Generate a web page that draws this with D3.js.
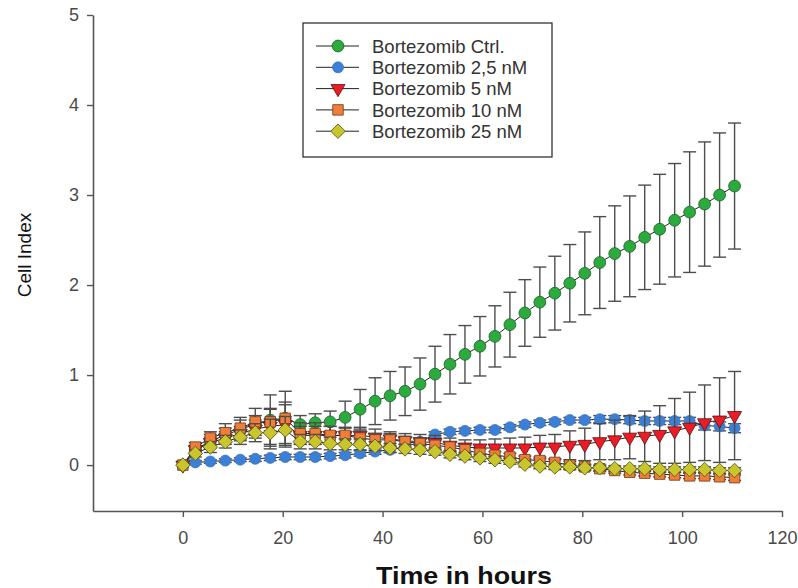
<!DOCTYPE html>
<html>
<head>
<meta charset="utf-8">
<script src="https://cdn.jsdelivr.net/npm/d3@7"></script>
<style>
  body { margin: 0; background: #fff; }
  text { font-family: "Liberation Sans", Arial, sans-serif; }
</style>
</head>
<body>
<svg class="chart" width="798" height="588"></svg>
<script>
var hours = [0, 2.5, 5.5, 8.5, 11.5, 14.5, 17.5, 20.5, 23.5, 26.5, 29.5, 32.5, 35.5, 38.5, 41.5, 44.5, 47.5, 50.5, 53.5, 56.5,
             59.5, 62.5, 65.5, 68.5, 71.5, 74.5, 77.5, 80.5, 83.5, 86.5, 89.5, 92.5, 95.5, 98.5, 101.5, 104.5, 107.5, 110.5];

var ctrl    = [0, 0.17, 0.27, 0.33, 0.40, 0.45, 0.50, 0.52, 0.45, 0.47, 0.48, 0.53, 0.62, 0.71, 0.77, 0.82, 0.90, 1.01, 1.12, 1.23,
               1.32, 1.43, 1.56, 1.69, 1.81, 1.91, 2.02, 2.13, 2.25, 2.35, 2.43, 2.53, 2.62, 2.72, 2.81, 2.90, 3.00, 3.10];
var ctrlSd  = [0, 0.05, 0.07, 0.08, 0.10, 0.10, 0.12, 0.15, 0.10, 0.10, 0.12, 0.18, 0.22, 0.26, 0.27, 0.27, 0.29, 0.31, 0.33, 0.32,
               0.33, 0.34, 0.36, 0.37, 0.39, 0.41, 0.43, 0.46, 0.51, 0.53, 0.56, 0.58, 0.61, 0.63, 0.67, 0.69, 0.69, 0.70];

var nm2_5   = [0, 0.03, 0.04, 0.05, 0.06, 0.07, 0.08, 0.09, 0.09, 0.09, 0.10, 0.11, 0.13, 0.15, 0.17, 0.20, 0.26, 0.34, 0.37, 0.38,
               0.39, 0.39, 0.42, 0.45, 0.47, 0.48, 0.50, 0.50, 0.51, 0.51, 0.50, 0.49, 0.49, 0.49, 0.49, 0.44, 0.43, 0.41];
var nm2_5Sd = [0, 0.02, 0.02, 0.02, 0.02, 0.03, 0.03, 0.03, 0.03, 0.03, 0.03, 0.03, 0.03, 0.03, 0.03, 0.03, 0.03, 0.03, 0.03, 0.03,
               0.03, 0.03, 0.03, 0.03, 0.03, 0.03, 0.03, 0.03, 0.04, 0.04, 0.04, 0.04, 0.04, 0.04, 0.04, 0.05, 0.05, 0.05];

var nm5     = [0, 0.17, 0.25, 0.30, 0.35, 0.40, 0.43, 0.45, 0.33, 0.33, 0.33, 0.33, 0.33, 0.31, 0.29, 0.27, 0.26, 0.25, 0.22, 0.20,
               0.19, 0.19, 0.19, 0.19, 0.20, 0.20, 0.22, 0.23, 0.26, 0.28, 0.31, 0.32, 0.34, 0.38, 0.42, 0.47, 0.50, 0.55];
var nm5Sd   = [0, 0.04, 0.06, 0.07, 0.08, 0.10, 0.20, 0.25, 0.10, 0.10, 0.10, 0.09, 0.09, 0.09, 0.08, 0.08, 0.08, 0.08, 0.08, 0.08,
               0.09, 0.10, 0.11, 0.12, 0.13, 0.14, 0.16, 0.18, 0.20, 0.22, 0.24, 0.28, 0.32, 0.36, 0.39, 0.42, 0.47, 0.49];

var nm10    = [0, 0.20, 0.30, 0.36, 0.41, 0.48, 0.48, 0.52, 0.35, 0.35, 0.33, 0.33, 0.30, 0.28, 0.28, 0.26, 0.24, 0.22, 0.20, 0.17,
               0.13, 0.11, 0.09, 0.06, 0.05, 0.03, 0.00, -0.02, -0.04, -0.06, -0.08, -0.09, -0.10, -0.11, -0.12, -0.12, -0.13, -0.14];
var nm10Sd  = [0, 0.05, 0.07, 0.10, 0.12, 0.15, 0.30, 0.30, 0.12, 0.12, 0.10, 0.08, 0.08, 0.07, 0.07, 0.06, 0.06, 0.05, 0.05, 0.05,
               0.05, 0.04, 0.04, 0.04, 0.04, 0.04, 0.04, 0.03, 0.03, 0.03, 0.03, 0.03, 0.03, 0.03, 0.03, 0.03, 0.03, 0.03];

var nm25    = [0, 0.13, 0.20, 0.26, 0.31, 0.36, 0.36, 0.39, 0.26, 0.26, 0.24, 0.23, 0.23, 0.21, 0.19, 0.18, 0.17, 0.15, 0.12, 0.10,
               0.08, 0.06, 0.04, 0.01, -0.01, -0.02, -0.02, -0.03, -0.03, -0.04, -0.04, -0.04, -0.05, -0.05, -0.05, -0.05, -0.06, -0.06];
var nm25Sd  = [0, 0.04, 0.06, 0.07, 0.08, 0.10, 0.15, 0.15, 0.08, 0.08, 0.07, 0.06, 0.06, 0.05, 0.05, 0.05, 0.05, 0.04, 0.04, 0.04,
               0.04, 0.04, 0.03, 0.03, 0.03, 0.03, 0.03, 0.03, 0.03, 0.03, 0.03, 0.03, 0.03, 0.03, 0.03, 0.03, 0.03, 0.03];

var seriesNames = ["Bortezomib Ctrl.", "Bortezomib 2,5 nM", "Bortezomib 5 nM", "Bortezomib 10 nM", "Bortezomib 25 nM"];
var xTicks = [0, 20, 40, 60, 80, 100, 120];
var yTicks = [0, 1, 2, 3, 4, 5];

// marker styles, in legend order
var styles = [
  {shape: "circle",   size: 110, fill: "#2bab3e", stroke: "#1c5e25"},
  {shape: "circle",   size: 95,  fill: "#3b80d6", stroke: "#3a76c0"},
  {shape: "triangle", size: 85,  fill: "#ec1c24", stroke: "#5a1010"},
  {shape: "square",   size: 110, fill: "#f07e3a", stroke: "#6a3a1a"},
  {shape: "diamond",  size: 105, fill: "#c8c62c", stroke: "#55551a"}
];

var allValues = [ctrl, nm2_5, nm5, nm10, nm25];
var allSd = [ctrlSd, nm2_5Sd, nm5Sd, nm10Sd, nm25Sd];

var series = seriesNames.map(function(name, i) {
  return {
    name: name,
    style: styles[i],
    points: hours.map(function(h, j) { return {t: h, v: allValues[i][j], sd: allSd[i][j]}; })
  };
});

var svg = d3.select(".chart");

var x = d3.scaleLinear().domain([-18, 120]).range([93, 782]);
var y = d3.scaleLinear().domain([-0.51, 5]).range([511, 15]);

function symbolPath(style) {
  var type = d3.symbolCircle;
  if (style.shape === "triangle") type = d3.symbolTriangle;
  if (style.shape === "square" || style.shape === "diamond") type = d3.symbolSquare;
  return d3.symbol().type(type).size(style.size)();
}
function symbolRotate(style) {
  if (style.shape === "triangle") return " rotate(180)";
  if (style.shape === "diamond") return " rotate(45)";
  return "";
}

// axes
var yAxis = d3.axisLeft(y).tickValues(yTicks).tickFormat(d3.format("d"))
  .tickSize(6).tickSizeOuter(0).tickPadding(8);
var xAxis = d3.axisBottom(x).tickValues(xTicks).tickFormat(d3.format("d"))
  .tickSize(6).tickSizeOuter(0).tickPadding(14);

var gy = svg.append("g").attr("transform", "translate(93,0)").call(yAxis);
var gx = svg.append("g").attr("transform", "translate(0,511)").call(xAxis);

[gx, gy].forEach(function(g) {
  g.selectAll(".domain").attr("stroke", "#555").attr("stroke-width", 1.6);
  g.selectAll(".tick line").attr("stroke", "#555").attr("stroke-width", 1.4);
  g.selectAll(".tick text").attr("fill", "#4a4a4a").style("font-size", "18px")
    .style("font-family", "'Liberation Sans', Arial, sans-serif");
});

// axis titles
svg.append("text")
  .attr("transform", "translate(31,255) rotate(-90)")
  .attr("text-anchor", "middle")
  .style("font-size", "19px")
  .attr("fill", "#111")
  .text("Cell Index");

svg.append("text")
  .attr("x", 464)
  .attr("y", 584)
  .attr("text-anchor", "middle")
  .attr("textLength", 176)
  .attr("lengthAdjust", "spacingAndGlyphs")
  .style("font-size", "24px")
  .style("font-weight", "bold")
  .attr("fill", "#111")
  .text("Time in hours");

// series
var line = d3.line()
  .x(function(d) { return x(d.t); })
  .y(function(d) { return y(d.v); });

series.forEach(function(s) {
  var g = svg.append("g");

  var eb = g.selectAll(".eb")
    .data(s.points.filter(function(d) { return d.sd > 0; }))
    .enter().append("g")
    .attr("stroke", "#4d4d4d")
    .attr("stroke-width", 1.4);

  eb.append("line")
    .attr("x1", function(d) { return x(d.t); })
    .attr("x2", function(d) { return x(d.t); })
    .attr("y1", function(d) { return y(d.v - d.sd); })
    .attr("y2", function(d) { return y(d.v + d.sd); });
  eb.append("line")
    .attr("x1", function(d) { return x(d.t) - 6.5; })
    .attr("x2", function(d) { return x(d.t) + 6.5; })
    .attr("y1", function(d) { return y(d.v + d.sd); })
    .attr("y2", function(d) { return y(d.v + d.sd); });
  eb.append("line")
    .attr("x1", function(d) { return x(d.t) - 6.5; })
    .attr("x2", function(d) { return x(d.t) + 6.5; })
    .attr("y1", function(d) { return y(d.v - d.sd); })
    .attr("y2", function(d) { return y(d.v - d.sd); });

  g.append("path")
    .datum(s.points)
    .attr("fill", "none")
    .attr("stroke", "#222")
    .attr("stroke-width", 1)
    .attr("d", line);

  g.selectAll(".pt")
    .data(s.points)
    .enter().append("path")
    .attr("d", symbolPath(s.style))
    .attr("transform", function(d) { return "translate(" + x(d.t) + "," + y(d.v) + ")" + symbolRotate(s.style); })
    .attr("fill", s.style.fill)
    .attr("stroke", s.style.stroke)
    .attr("stroke-width", 0.8);
});

// legend
var legend = svg.append("g").attr("transform", "translate(303,23)");
legend.append("rect")
  .attr("width", 249)
  .attr("height", 134)
  .attr("fill", "#fff")
  .attr("stroke", "#222")
  .attr("stroke-width", 1.2);

var item = legend.selectAll(".item")
  .data(series)
  .enter().append("g")
  .attr("transform", function(d, i) { return "translate(0," + (23 + i * 21.3) + ")"; });

item.append("line")
  .attr("x1", 13).attr("x2", 56)
  .attr("stroke", "#222").attr("stroke-width", 1);
item.append("path")
  .attr("d", function(d) { return symbolPath(d.style); })
  .attr("transform", function(d) { return "translate(35,0)" + symbolRotate(d.style); })
  .attr("fill", function(d) { return d.style.fill; })
  .attr("stroke", function(d) { return d.style.stroke; })
  .attr("stroke-width", 0.8);
item.append("text")
  .attr("x", 69)
  .attr("dy", "0.36em")
  .style("font-size", "18.5px")
  .attr("fill", "#333")
  .text(function(d) { return d.name; });
</script>
</body>
</html>
